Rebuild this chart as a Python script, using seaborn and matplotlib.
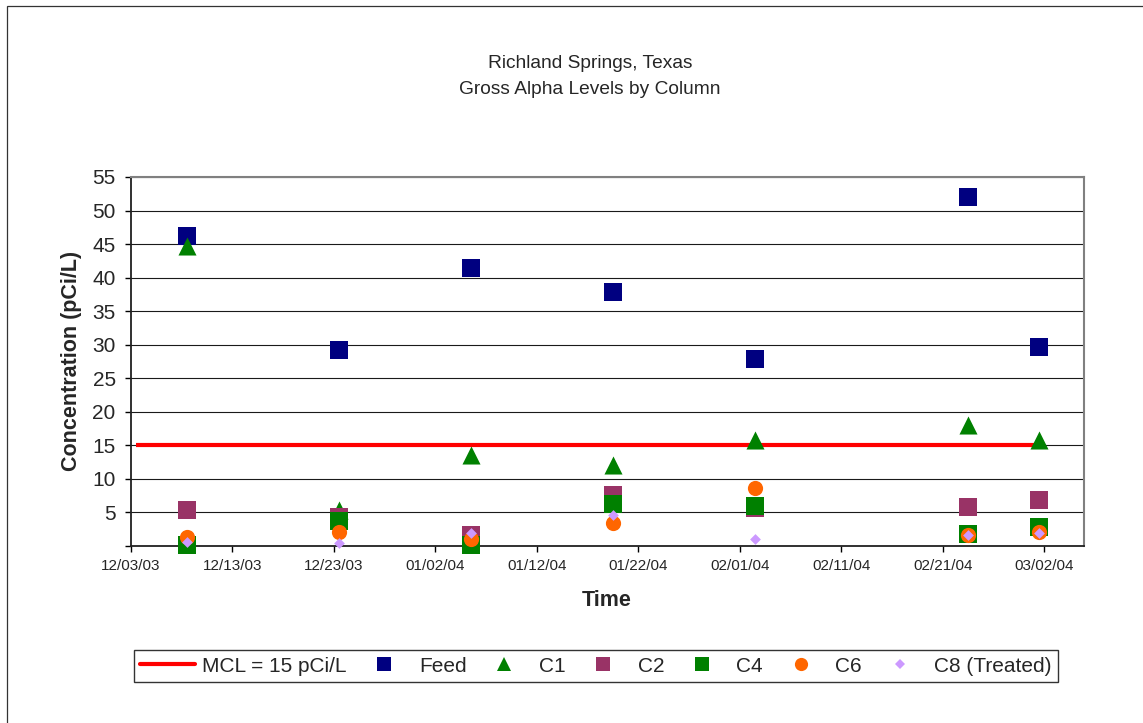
import matplotlib
matplotlib.use("Agg")
import matplotlib.pyplot as plt
from matplotlib.lines import Line2D
from matplotlib.patches import Rectangle
import pandas as pd
import seaborn as sns

# Sampling dates and gross alpha results (pCi/L) per column
sample_dates = ["12/08/03", "12/23/03", "01/05/04", "01/19/04", "02/02/04", "02/23/04", "03/01/04"]
feed = [46.2, 29.2, 41.4, 37.8, 27.8, 52.0, 29.6]
c1 = [44.7, 5.3, 13.5, 12.0, 15.8, 18.1, 15.8]
c2 = [5.3, 4.3, 1.6, 7.6, 5.6, 5.8, 6.9]
c4 = [0.1, 3.8, 0.1, 6.2, 6.0, 1.8, 2.9]
c6 = [1.4, 2.1, 1.1, 3.4, 8.6, 1.6, 2.1]
c8 = [0.55, 0.4, 2.0, 4.6, 1.0, 1.6, 2.0]

# Maximum contaminant level line
mcl_dates = ["12/03/03", "03/01/04"]
mcl_values = [15, 15]

x_tick_labels = ["12/03/03", "12/13/03", "12/23/03", "01/02/04", "01/12/04",
                 "01/22/04", "02/01/04", "02/11/04", "02/21/04", "03/02/04"]
y_ticks = [0, 5, 10, 15, 20, 25, 30, 35, 40, 45, 50, 55]
y_tick_labels = ["", "5", "10", "15", "20", "25", "30", "35", "40", "45", "50", "55"]

sns.set_style("white")
plt.rcParams["font.family"] = ["Liberation Sans", "DejaVu Sans"]

fmt = "%m/%d/%y"
half_day = pd.Timedelta(hours=12)  # points sit mid-day on a date axis
dates = pd.to_datetime(sample_dates, format=fmt) + half_day

series = [
    ("Feed", feed, "#000080", "s", 169, 9.5),
    ("C1", c1, "#008000", "^", 169, 10),
    ("C2", c2, "#993366", "s", 169, 9.5),
    ("C4", c4, "#008000", "s", 169, 9.5),
    ("C6", c6, "#FF6600", "o", 120, 9.5),
    ("C8 (Treated)", c8, "#CC99FF", "D", 30, 5.5),
]

fig = plt.figure(figsize=(11.43, 7.23), dpi=100)
ax = fig.add_axes([131 / 1143, 1 - 546 / 723, (1084 - 131) / 1143, (546 - 177) / 723])

# Grid lines
for yv in y_ticks[1:]:
    ax.axhline(yv, color="#1a1a1a", lw=0.8, zorder=0.5)

mcl_df = pd.DataFrame({"date": pd.to_datetime(mcl_dates, format=fmt) + half_day,
                       "value": mcl_values})
sns.lineplot(data=mcl_df, x="date", y="value", color="#FF0000", lw=3.0,
             ax=ax, zorder=2, solid_capstyle="butt")

z = 3
for name, vals, color, marker, size, _ in series:
    df = pd.DataFrame({"date": dates, "value": vals})
    sns.scatterplot(data=df, x="date", y="value", color=color, marker=marker,
                    s=size, linewidth=0, ax=ax, zorder=z, clip_on=False)
    z += 1

ax.set_xlim(pd.Timestamp("2003-12-03"), pd.Timestamp("2004-03-06") - pd.Timedelta(hours=2))
ax.set_ylim(0, 55)
ax.set_xticks(pd.to_datetime(x_tick_labels, format=fmt))
ax.set_xticklabels(x_tick_labels, fontsize=11)
ax.set_yticks(y_ticks)
ax.set_yticklabels(y_tick_labels, fontsize=15)
ax.tick_params(axis="x", direction="out", length=4, width=1, color="black", pad=5, bottom=True)
ax.tick_params(axis="y", direction="out", length=4, width=1, color="black", pad=7, left=True)
ax.set_xlabel("")
ax.set_ylabel("")

for side in ("left", "bottom"):
    ax.spines[side].set_color("#202020")
    ax.spines[side].set_linewidth(1.3)
for side in ("top", "right"):
    ax.spines[side].set_color("#808080")
    ax.spines[side].set_linewidth(1.5)

# Titles and axis labels
fig.text(590 / 1143, 1 - 63 / 723, "Richland Springs, Texas", ha="center", va="center", fontsize=13.8)
fig.text(590 / 1143, 1 - 89 / 723, "Gross Alpha Levels by Column", ha="center", va="center", fontsize=13.8)
fig.text(607 / 1143, 1 - 600 / 723, "Time", ha="center", va="center", fontsize=15.5, fontweight="bold")
fig.text(72 / 1143, 1 - 361 / 723, "Concentration (pCi/L)", ha="center", va="center",
         rotation=90, fontsize=15.5, fontweight="bold")

# Legend
handles = [Line2D([], [], color="#FF0000", lw=3.0)]
labels = ["MCL = 15 pCi/L"]
for name, vals, color, marker, size, lms in series:
    handles.append(Line2D([], [], ls="none", marker=marker, color=color, ms=lms, mew=0))
    labels.append(name)
leg = fig.legend(handles, labels, loc="center", bbox_to_anchor=(596 / 1143, 1 - 666 / 723),
                 ncol=7, fontsize=15, frameon=True, fancybox=False, shadow=False,
                 handlelength=2.62, handletextpad=0.35, columnspacing=0.5,
                 borderpad=0.3, borderaxespad=0)
leg.get_frame().set_edgecolor("black")
leg.get_frame().set_linewidth(1.0)

# Chart border
fig.patches.append(Rectangle((6.5 / 1143, -0.05), 1.2, 1 - 6.5 / 723 + 0.05,
                             transform=fig.transFigure, fill=False,
                             edgecolor="#333333", lw=0.9))

fig.savefig("out.png", dpi=100)
